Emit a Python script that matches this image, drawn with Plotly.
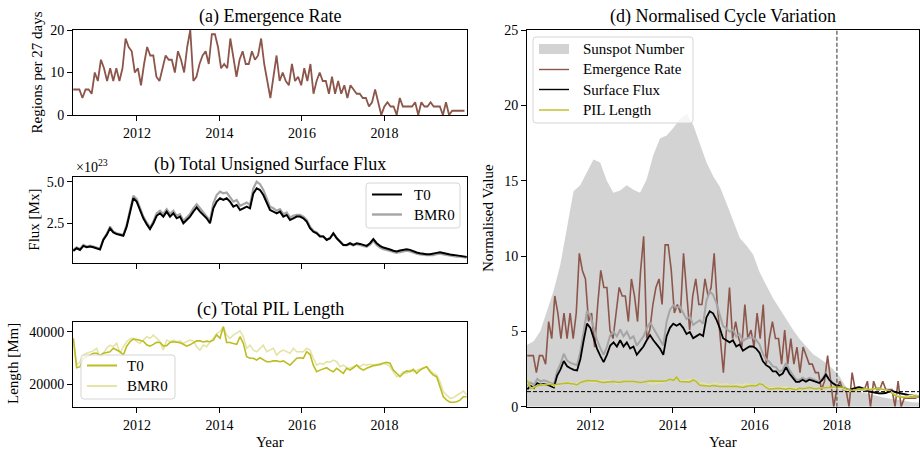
import numpy as np
import plotly.graph_objects as go

# ---------------------------------------------------------------- data
# Emergence rate: active regions per Carrington rotation (27.2753 d)
ER_START = 2010.455
CR_YEARS = 27.2753 / 365.25
emergence_rate = [
    6, 6, 6, 4, 6, 6, 5, 10, 8, 13, 11, 8, 11, 8, 11, 8, 11,
    18, 16, 15, 10, 11, 7, 12, 16, 14, 14, 9, 8, 11, 14, 13, 13, 10, 15, 13, 10,
    16, 20, 8, 9, 12, 14, 15, 12, 19, 19, 16, 11, 12, 11, 18, 13, 9, 13, 15, 12,
    12, 15, 13, 14, 18,
    12, 8, 4, 9, 14, 8, 10, 8, 7, 12, 8, 9, 7, 11, 8, 12, 5, 8, 10, 8, 8, 5, 9,
    5, 8, 5, 7, 4, 7, 6, 5, 5, 4, 4, 2, 3, 6, 3, 0, 2, 3, 2, 2, 0, 4, 2, 2, 2,
    2, 3, 0, 3, 2, 2, 3, 2, 2, 2, 0, 3, 0,
    1, 1, 1, 1, 1,
]

# Total unsigned surface flux [1e23 Mx], sampled every ~29.5 days
FLUX_START = 2010.458
FLUX_STEP = 0.0808
flux_t0 = [
    0.84, 1.00, 0.90, 1.14, 1.06, 1.10, 1.06, 1.00, 0.92,
    1.50, 1.80, 2.20, 1.95, 1.85, 1.78, 1.75, 2.30,
    3.20, 4.00, 3.80, 3.30, 2.80, 2.45, 2.15,
    2.50, 2.95, 3.10, 2.90, 3.20, 2.90, 3.10, 2.80, 2.90, 2.50, 2.70, 2.90,
    3.20, 3.45, 3.20, 3.00, 2.80, 2.50,
    3.40, 3.80, 4.00, 3.90, 4.00, 3.80, 3.50, 3.60, 3.30, 3.40, 3.50, 3.40,
    4.30, 4.60, 4.50, 4.20, 3.80, 3.30,
    3.20, 3.10, 3.20, 2.90, 3.00, 2.70, 2.80, 2.90, 2.90, 2.80, 2.60, 2.20,
    2.00, 1.90, 1.70, 1.70, 1.50, 1.60, 1.90, 1.60, 1.40, 1.20, 1.20, 1.30,
    1.20, 1.30, 1.26, 1.20, 1.14, 1.30,
    1.55, 1.30, 1.14, 1.04,
    1.00, 0.92, 0.85, 0.80, 0.86, 0.90, 0.94, 0.90, 0.80, 0.74, 0.70, 0.66,
    0.64, 0.64, 0.66, 0.72, 0.76, 0.70, 0.66, 0.62, 0.60, 0.56, 0.54, 0.50, 0.48,
]
flux_bmr0 = [
    0.90, 1.05, 0.95, 1.20, 1.10, 1.15, 1.10, 1.05, 0.97,
    1.55, 1.85, 2.30, 2.00, 1.90, 1.85, 1.80, 2.40,
    3.30, 4.15, 3.95, 3.40, 2.90, 2.55, 2.25,
    2.60, 3.10, 3.25, 3.05, 3.35, 3.05, 3.25, 2.95, 3.05, 2.65, 2.85, 3.05,
    3.40, 3.65, 3.40, 3.15, 2.95, 2.65,
    3.70, 4.20, 4.40, 4.30, 4.35, 4.10, 3.80, 3.90, 3.55, 3.65, 3.75, 3.60,
    4.60, 5.00, 4.85, 4.50, 4.05, 3.50,
    3.40, 3.25, 3.35, 3.05, 3.15, 2.85, 2.95, 3.00, 3.00, 2.90, 2.70, 2.30,
    2.05, 1.95, 1.75, 1.72, 1.52, 1.60, 1.90, 1.60, 1.38, 1.18, 1.17, 1.26,
    1.16, 1.25, 1.20, 1.14, 1.08, 1.22,
    1.45, 1.20, 1.04, 0.94,
    0.90, 0.83, 0.77, 0.72, 0.77, 0.81, 0.85, 0.81, 0.72, 0.67, 0.63, 0.59,
    0.58, 0.58, 0.59, 0.65, 0.68, 0.63, 0.59, 0.56, 0.54, 0.50, 0.49, 0.45, 0.43,
]

# Total polarity-inversion-line length [Mm], same sampling as the flux
pil_t0 = [
    37500, 26300, 26700, 29900, 30500, 31100, 31800, 31800, 31100, 31800,
    32100, 32400, 33700, 33000, 32400, 31100, 34500, 36200, 37200, 37000,
    36800, 36400, 35000, 34500, 35200, 36000, 35900, 34600, 34700, 35900,
    36200, 36100, 35800, 35200, 34500, 35000, 35900, 36500, 36500, 36100,
    36400, 36200, 36800, 38800, 37500, 41900, 35900, 35900, 35500, 35200,
    38100, 35600, 30500, 29900, 29900, 29200, 30100, 29200, 28600, 28600,
    28900, 28900, 28600, 28900, 28000, 27300, 28600, 29900, 30100, 29900,
    32400, 31400, 27300, 24800, 25400, 25800, 26300, 25400, 24800, 26100,
    25100, 24200, 26100, 25400, 26300, 27300, 26100, 25400, 26100, 26700,
    27100, 27300, 27600, 28000, 28400, 28000, 25400, 24200, 22900, 24200,
    25100, 24800, 25700, 24200, 25400, 26100, 26700, 24800, 23500, 22900,
    19100, 15300, 14000, 13200, 13200, 13400, 14000, 15300, 15300,
]
pil_bmr0 = [
    37500, 27300, 28600, 31100, 31800, 32400, 32700, 33700, 29900, 31800,
    33700, 34900, 34300, 35600, 31800, 34300, 36200, 37200, 37500, 36200,
    35600, 36800, 38100, 37500, 38700, 37500, 36200, 33000, 36800, 36200,
    36800, 36200, 36500, 35600, 36200, 36800, 36500, 34300, 33000, 34900,
    34300, 36200, 37500, 39400, 40000, 41900, 38700, 37500, 38700, 39400,
    40300, 38100, 33700, 34900, 33000, 32400, 33700, 34900, 32400, 33000,
    33700, 31100, 32400, 33000, 32400, 31800, 33700, 32400, 32400, 32400,
    33700, 33000, 29900, 27300, 28000, 27600, 28600, 28400, 29200, 28600,
    26700, 27300, 26300, 26100, 26700, 27300, 26700, 27600, 27300, 27600,
    27300, 27600, 27300, 28000, 27600, 26700, 24800, 22900, 23500, 24800,
    24200, 25400, 24800, 25400, 25800, 26300, 26700, 25400, 24200, 23500,
    21000, 17200, 15900, 14700, 14900, 15900, 16600, 17500, 15900,
]

# Smoothed sunspot number, already normalised to the 2018+ minimum level
SSN_START = 2010.45
SSN_STEP = 0.162
sunspot_norm = [
    4.1, 4.35, 5.0, 6.3, 7.7, 9.4, 11.8, 14.3, 14.7, 15.6,
    16.4, 16.2, 15.0, 14.2, 14.35, 14.7, 14.4, 14.2, 15.1, 16.7,
    17.8, 18.0, 18.5, 19.1, 19.45, 18.7, 17.4, 16.2, 15.3, 14.6,
    13.5, 12.4, 11.2, 10.7, 10.1, 8.9, 8.0, 7.2, 6.5, 5.8,
    5.1, 4.5, 4.0, 3.5, 3.2, 2.9, 2.5, 2.0, 1.3, 1.1,
    1.0, 0.88, 0.78, 0.68, 0.58, 0.5, 0.45, 0.38, 0.3, 0.28,
]

X_RANGE = [2010.45, 2020.0]
YEAR_TICKS = [2012, 2014, 2016, 2018]
REF_YEAR = 2018.0

# ---------------------------------------------------------------- derived
er = np.array(emergence_rate, float)
er_t = ER_START + np.arange(er.size) * CR_YEARS
f0 = np.array(flux_t0)
f1 = np.array(flux_bmr0)
p0 = np.array(pil_t0, float)
p1 = np.array(pil_bmr0, float)
f_t = FLUX_START + np.arange(f0.size) * FLUX_STEP
ssn = np.array(sunspot_norm)
ssn_t = SSN_START + np.arange(ssn.size) * SSN_STEP


def normalise(t, v):
    """Scale a series by its mean over the post-2018 minimum."""
    return v / v[t >= REF_YEAR].mean()


# ---------------------------------------------------------------- style
W, H = 920, 450
FONT = "Liberation Serif"
BROWN = "#8c564b"
OLIVE = "#bcbd22"
OLIVE_LIGHT = "#e4e4a7"
GREY = "#a5a5a5"
SUN = "#d3d3d3"


def px(x):
    return x / W


def py(y):
    return 1 - y / H


def xaxis(dom_x, anchor, labels=True):
    return dict(domain=[px(dom_x[0]), px(dom_x[1])], anchor=anchor,
                range=X_RANGE, tickvals=YEAR_TICKS, showticklabels=labels,
                ticks="outside", ticklen=5, tickwidth=1, tickcolor="black",
                showline=True, linecolor="black", linewidth=1, mirror=True,
                showgrid=False, zeroline=False, automargin=False,
                tickfont=dict(family=FONT, size=14, color="black"))


def yaxis(dom_y, anchor, rng, ticks, text=None):
    d = dict(domain=[py(dom_y[1]), py(dom_y[0])], anchor=anchor, range=rng,
             tickvals=ticks, ticks="outside", ticklen=5, tickwidth=1,
             tickcolor="black", showline=True, linecolor="black",
             linewidth=1, mirror=True, showgrid=False, zeroline=False,
             automargin=False,
             tickfont=dict(family=FONT, size=14, color="black"))
    if text is not None:
        d["ticktext"] = text
    return d


LEFT = (73, 467)
RIGHT = (527, 919)

fig = go.Figure()


def line(x, y, ax, color, width):
    fig.add_trace(go.Scatter(x=x, y=y, mode="lines", xaxis="x" + ax,
                             yaxis="y" + ax, showlegend=False,
                             line=dict(color=color, width=width)))


# (a) emergence rate
line(er_t, er, "", BROWN, 1.8)
# (b) surface flux
line(f_t, f1, "2", GREY, 2.2)
line(f_t, f0, "2", "black", 2.0)
# (c) PIL length
line(f_t, p1, "3", OLIVE_LIGHT, 1.6)
line(f_t, p0, "3", OLIVE, 1.6)
# (d) normalised cycle variation
fig.add_trace(go.Scatter(x=ssn_t, y=ssn, mode="lines", fill="tozeroy",
                         xaxis="x4", yaxis="y4", showlegend=False,
                         line=dict(color=SUN, width=0), fillcolor=SUN))
line(er_t, normalise(er_t, er), "4", BROWN, 1.6)
line(f_t, normalise(f_t, f1), "4", GREY, 2.0)
line(f_t, normalise(f_t, f0), "4", "black", 1.8)
line(f_t, normalise(f_t, p1), "4", OLIVE_LIGHT, 1.5)
line(f_t, normalise(f_t, p0), "4", OLIVE, 1.5)

# reference lines in (d)
fig.add_shape(type="line", xref="x4", yref="y4", x0=REF_YEAR, x1=REF_YEAR,
              y0=0, y1=25, line=dict(color="#505050", width=1.2, dash="4px,2px"))
fig.add_shape(type="line", xref="x4", yref="y4", x0=X_RANGE[0], x1=X_RANGE[1],
              y0=1, y1=1, line=dict(color="black", width=1, dash="4px,2px"))


# ---------------------------------------------------------------- legends
def rounded_box(l, t, r, b, rad=3):
    p = lambda x, y: f"{px(x):.5f},{py(y):.5f}"
    return (f"M {p(l + rad, t)} L {p(r - rad, t)} Q {p(r, t)} {p(r, t + rad)} "
            f"L {p(r, b - rad)} Q {p(r, b)} {p(r - rad, b)} "
            f"L {p(l + rad, b)} Q {p(l, b)} {p(l, b - rad)} "
            f"L {p(l, t + rad)} Q {p(l, t)} {p(l + rad, t)} Z")


def legend(box, rows, text_dx):
    l, t, r, b = box
    fig.add_shape(type="path", xref="paper", yref="paper",
                  path=rounded_box(l, t, r, b),
                  fillcolor="rgba(255,255,255,0.8)",
                  line=dict(color="#d5d5d5", width=1), layer="above")
    for y, kind, color, width, text in rows:
        if kind == "patch":
            fig.add_shape(type="rect", xref="paper", yref="paper",
                          x0=px(l + 6), x1=px(l + 36), y0=py(y + 5), y1=py(y - 5),
                          fillcolor=color, line=dict(width=0), layer="above")
        else:
            fig.add_shape(type="line", xref="paper", yref="paper",
                          x0=px(l + 6), x1=px(l + 36), y0=py(y), y1=py(y),
                          line=dict(color=color, width=width), layer="above")
        fig.add_annotation(text=text, xref="paper", yref="paper",
                           x=px(l + text_dx), y=py(y), xanchor="left",
                           yanchor="middle", showarrow=False,
                           font=dict(family=FONT, size=15, color="black"))


legend((366, 183, 460, 228),
       [(194.5, "line", "black", 2.0, "T0"),
        (214.5, "line", GREY, 2.4, "BMR0")], 46)
legend((81, 355, 175, 399),
       [(365.5, "line", OLIVE, 2.0, "T0"),
        (386, "line", OLIVE_LIGHT, 2.0, "BMR0")], 44)
legend((533, 37, 693, 123),
       [(49, "patch", SUN, 0, "Sunspot Number"),
        (69.5, "line", BROWN, 1.4, "Emergence Rate"),
        (89.5, "line", "black", 1.4, "Surface Flux"),
        (110, "line", OLIVE, 1.4, "PIL Length")], 48)

fig.update_layout(
    template="none",
    width=W, height=H, margin=dict(l=0, r=0, t=0, b=0, pad=0),
    plot_bgcolor="white", paper_bgcolor="white", showlegend=False,
    font=dict(family=FONT, size=14, color="black"),
    xaxis=xaxis(LEFT, "y"),
    yaxis=yaxis((30, 115), "x", [0, 20], [0, 10, 20]),
    xaxis2=xaxis(LEFT, "y2", labels=False),
    yaxis2=yaxis((176.7, 262.7), "x2", [0.13, 5.3], [2.5, 5.0], ["2.5", "5.0"]),
    xaxis3=xaxis(LEFT, "y3"),
    yaxis3=yaxis((321.7, 406.7), "x3", [11500, 43800], [20000, 40000],
                 ["20000", "40000"]),
    xaxis4=xaxis(RIGHT, "y4"),
    yaxis4=yaxis((30, 406.7), "x4", [0, 25], [0, 5, 10, 15, 20, 25]),
)


def label(text, x, y, size=15, angle=0, anchor="center"):
    fig.add_annotation(text=text, xref="paper", yref="paper", x=px(x), y=py(y),
                       xanchor=anchor, yanchor="middle", showarrow=False,
                       textangle=angle,
                       font=dict(family=FONT, size=size, color="black"))


# panel titles
label("(a) Emergence Rate", 270, 16.5, size=18)
label("(b) Total Unsigned Surface Flux", 270, 164, size=18)
label("(c) Total PIL Length", 270, 309, size=18)
label("(d) Normalised Cycle Variation", 723, 16, size=18)

# axis titles
label("Regions per 27 days", 37, 72.5, angle=-90)
label("Flux [Mx]", 34, 219.7, angle=-90)
label("Length [Mm]", 13, 364, angle=-90)
label("Normalised Value", 488, 218, angle=-90)
label("Year", 270, 442)
label("Year", 723, 442)
label("×10<sup>23</sup>", 74, 166, size=14, anchor="left")

fig.write_html("out.html")
